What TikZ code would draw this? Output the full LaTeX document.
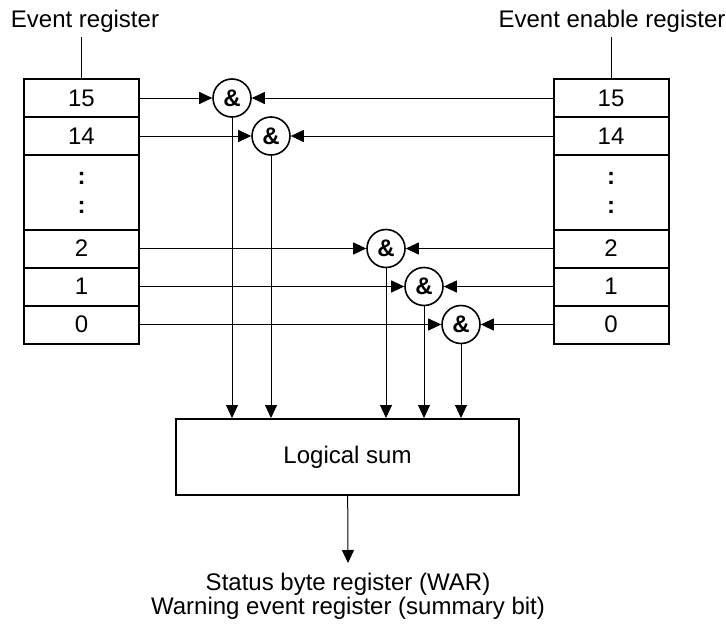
\documentclass[tikz,border=0pt]{standalone}
\usepackage{fontspec}
\setmainfont{Liberation Sans}
\usetikzlibrary{arrows.meta}

\begin{document}
\begin{tikzpicture}[x=0.5pt, y=-0.5pt, >={Triangle[length=6.5pt, width=6pt]}, line width=0.5pt,
  font=\fontsize{12}{14}\selectfont,
  bit/.style={draw, line width=1pt, minimum width=57.5pt, minimum height=19pt, inner sep=0pt},
  gate/.style={draw, circle, line width=0.8pt, minimum size=19pt, inner sep=0pt, font=\fontsize{12}{14}\selectfont\bfseries}]
  \useasboundingbox (0,0) rectangle (726,631);
  % etiquetas de los registros
  \node[inner sep=2pt] (lab) at (85,21) {Event register};
  \node[inner sep=2pt] (rab) at (612,21) {Event enable register};
  % casillas de bits
  \foreach \b/\y in {15/98, 14/136, 2/248.5, 1/286.5, 0/324.5} {
    \node[bit] (l\b) at (81.5,\y) {\b};
    \node[bit] (r\b) at (611,\y) {\b};
  }
  \node[bit, minimum height=37.5pt, align=center, font=\fontsize{12}{14.5}\selectfont\bfseries] (ldots) at (81.5,192.5) {:\\:};
  \node[bit, minimum height=37.5pt, align=center, font=\fontsize{12}{14.5}\selectfont\bfseries] (rdots) at (611,192.5) {:\\:};
  \draw (l15.north) -- (l15.north |- lab.south);
  \draw (r15.north) -- (r15.north |- rab.south);
  % puertas AND
  \foreach \b/\x/\y in {15/232/98, 14/271/136, 2/386/248.5, 1/424/286.5, 0/461/324.5}
    \node[gate] (g\b) at (\x,\y) {\&};
  % suma logica
  \node[draw, line width=1pt, minimum width=171.5pt, minimum height=38pt] (sum) at (347.5,457) {Logical sum};
  % conexiones
  \foreach \b in {15,14,2,1,0} {
    \draw[->] (l\b) -- (g\b);
    \draw[->] (r\b) -- (g\b);
    \draw[->] (g\b) -- (g\b |- sum.north);
  }
  \coordinate (out) at (348,563);
  \draw[->] (sum) -- (out);
  \node[align=center, font=\fontsize{12}{9.4}\selectfont] (res) at (348,596) {Status byte register (WAR)\\Warning event register (summary bit)};
\end{tikzpicture}
\end{document}
